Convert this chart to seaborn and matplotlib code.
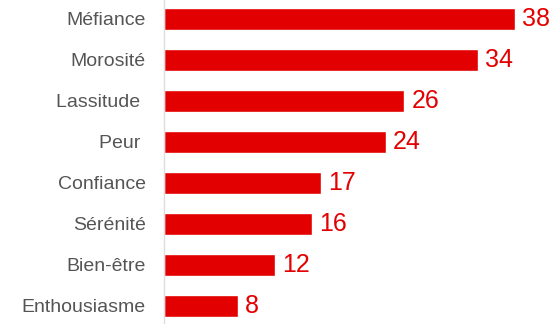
import matplotlib
matplotlib.use("Agg")
import matplotlib.pyplot as plt
import seaborn as sns
import pandas as pd

categories = ["Méfiance", "Morosité", "Lassitude ", "Peur ", "Confiance", "Sérénité", "Bien-être", "Enthousiasme"]
values = [38, 34, 26, 24, 17, 16, 12, 8]

df = pd.DataFrame({"cat": categories, "val": values})

sns.set_theme(style="white")
plt.rcParams['font.family'] = ['Liberation Sans', 'DejaVu Sans']

fig = plt.figure(figsize=(5.56, 3.24), dpi=100)
ax = fig.add_axes([164/556, 0, 1 - 164/556, 1])
red = "#e30000"
sns.barplot(data=df, x="val", y="cat", orient="h", color=red, width=0.52, ax=ax, saturation=1)

ax.set_xlim(0, 42.4)
ax.set_ylim(7.44, -0.46)
ax.set_xlabel("")
ax.set_ylabel("")
ax.set_xticks([])
for s in ["top", "right", "bottom"]:
    ax.spines[s].set_visible(False)
ax.spines["left"].set_color("#dddddd")
ax.spines["left"].set_linewidth(1)
ax.tick_params(axis="y", length=0, pad=13, labelsize=14, labelcolor="#555555")

for i, v in enumerate(values):
    ax.text(v + 0.75, i, str(v), va="center", ha="left", color=red, fontsize=18)

fig.savefig("out.png", dpi=100)
